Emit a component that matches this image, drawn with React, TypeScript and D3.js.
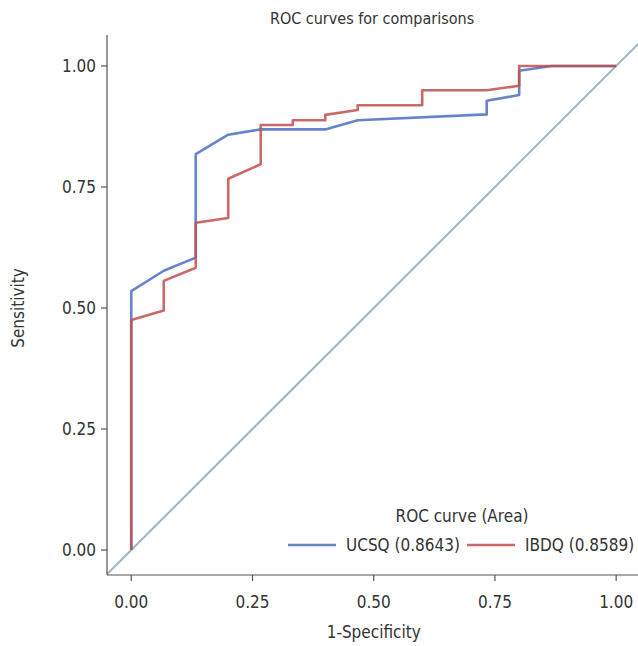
import { useMemo } from 'react';
import * as d3 from 'd3';

// false positive rate (1-specificity) / sensitivity
const ucsqFpr = [0, 0, 0.067, 0.133, 0.133, 0.2, 0.267, 0.4, 0.467, 0.733, 0.733, 0.8, 0.8, 0.867, 1];
const ucsqTpr = [0, 0.535, 0.577, 0.604, 0.818, 0.858, 0.869, 0.869, 0.888, 0.9, 0.928, 0.94, 0.99, 1, 1];

const ibdqFpr = [0, 0, 0.067, 0.067, 0.133, 0.133, 0.2, 0.2, 0.267, 0.267, 0.333, 0.333, 0.4, 0.4, 0.467, 0.467, 0.6, 0.6, 0.733, 0.8, 0.8, 1];
const ibdqTpr = [0, 0.475, 0.495, 0.556, 0.583, 0.676, 0.686, 0.767, 0.797, 0.878, 0.878, 0.888, 0.888, 0.899, 0.909, 0.919, 0.919, 0.95, 0.95, 0.959, 1, 1];

const seriesNames = ['UCSQ (0.8643)', 'IBDQ (0.8589)'];
const seriesColors = ['#4a6fbf', '#c0504f'];
const tickValues = [0, 0.25, 0.5, 0.75, 1];

const W = 638;
const H = 646;
const FONT = '"Liberation Sans Narrow", "DejaVu Sans Condensed", Roboto, sans-serif';

const App = () => {
  const left = 107, right = 638, top = 35, bottom = 575;

  const x = useMemo(() => d3.scaleLinear().domain([-0.05, 1.045]).range([left, right]), []);
  const y = useMemo(() => d3.scaleLinear().domain([-0.0516, 1.064]).range([bottom, top]), []);

  const line = d3.line<[number, number]>().x(d => x(d[0])).y(d => y(d[1]));

  const series = [
    ucsqFpr.map((v, i) => [v, ucsqTpr[i]] as [number, number]),
    ibdqFpr.map((v, i) => [v, ibdqTpr[i]] as [number, number]),
  ];

  const fmt = d3.format('.2f');
  const axisColor = '#555';

  return (
    <svg width={W} height={H} style={{ position: 'absolute', left: 0, top: 0 }} fontFamily={FONT}>
      <rect width={W} height={H} fill="#fff" />
      <text x={372} y={24} textAnchor="middle" fontSize={16} fill="#333">ROC curves for comparisons</text>

      <defs>
        <clipPath id="plot">
          <rect x={left} y={top} width={right - left} height={bottom - top} />
        </clipPath>
      </defs>

      {/* reference diagonal */}
      <g clipPath="url(#plot)">
        <line x1={x(-0.1)} y1={y(-0.1)} x2={x(1.1)} y2={y(1.1)} stroke="#9fb5c6" strokeWidth={2} />
        {series.map((s, i) => (
          <path key={i} d={line(s) || ''} fill="none" stroke={seriesColors[i]} strokeWidth={2.6}
            strokeOpacity={0.85} strokeLinejoin="round" />
        ))}
      </g>

      {/* axes */}
      <line x1={left} y1={top} x2={left} y2={bottom} stroke={axisColor} strokeWidth={1.2} />
      <line x1={left} y1={bottom} x2={right} y2={bottom} stroke={axisColor} strokeWidth={1.2} />
      {tickValues.map(t => (
        <g key={'x' + t}>
          <line x1={x(t)} x2={x(t)} y1={bottom} y2={bottom + 6} stroke={axisColor} strokeWidth={1.2} />
          <text x={x(t)} y={bottom + 33} textAnchor="middle" fontSize={17} fill="#333">{fmt(t)}</text>
        </g>
      ))}
      {tickValues.map(t => (
        <g key={'y' + t}>
          <line x1={left - 6} x2={left} y1={y(t)} y2={y(t)} stroke={axisColor} strokeWidth={1.2} />
          <text x={left - 11} y={y(t) + 6} textAnchor="end" fontSize={17} fill="#333">{fmt(t)}</text>
        </g>
      ))}
      <text x={x(0.5)} y={638} textAnchor="middle" fontSize={17} fill="#333">1-Specificity</text>
      <text transform={`translate(24,${y(0.5)}) rotate(-90)`} textAnchor="middle" fontSize={17} fill="#333">Sensitivity</text>

      {/* legend */}
      <text x={462} y={522} textAnchor="middle" fontSize={17} fill="#333">ROC curve (Area)</text>
      {seriesNames.map((name, i) => {
        const lx = i === 0 ? 288 : 467;
        return (
          <g key={name}>
            <line x1={lx} x2={lx + 48} y1={545} y2={545} stroke={seriesColors[i]} strokeWidth={2.6} strokeOpacity={0.85} />
            <text x={lx + 58} y={551} fontSize={17} fill="#333">{name}</text>
          </g>
        );
      })}
    </svg>
  );
};

export default App;
